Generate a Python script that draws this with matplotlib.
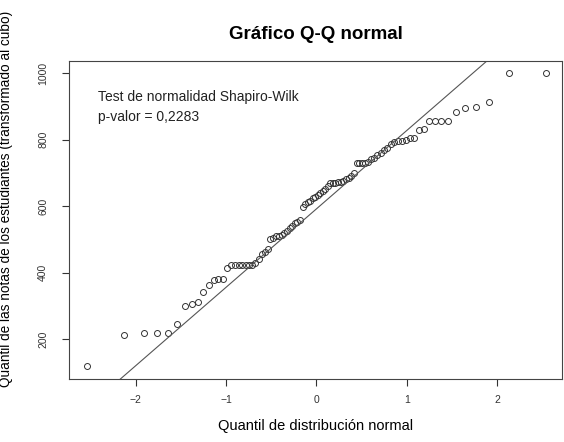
import matplotlib
matplotlib.use("Agg")
import matplotlib.pyplot as plt
import numpy as np
from statistics import NormalDist

# notas de los estudiantes (transformadas al cubo), ordenadas
notas = [119, 211, 217, 217, 217, 245, 299, 305, 311, 343,
         364, 377, 381, 380, 413, 422, 422, 422, 422, 422,
         422, 422, 430, 440, 455, 462, 470, 500, 505, 510,
         510, 512, 520, 525, 535, 540, 548, 552, 558, 598,
         605, 612, 615, 625, 628, 632, 638, 645, 650, 660,
         668, 670, 670, 672, 672, 675, 680, 685, 690, 700,
         728, 730, 730, 730, 732, 740, 745, 752, 760, 768,
         775, 785, 792, 795, 797, 799, 805, 805, 830, 832,
         857, 857, 857, 857, 884, 894, 899, 912, 1001, 1001]
p_valor = "0,2283"

y = np.sort(np.array(notas, dtype=float))
n = len(y)
# cuantiles teoricos como ppoints() de R
nd = NormalDist()
x = np.array([nd.inv_cdf((i - 0.5) / n) for i in range(1, n + 1)])

# recta qqline: pasa por el primer y tercer cuartil
y25, y75 = np.percentile(y, [25, 75])
x25, x75 = nd.inv_cdf(0.25), nd.inv_cdf(0.75)
pend = (y75 - y25) / (x75 - x25)
inter = y25 - pend * x25

plt.rcParams['font.family'] = ['Liberation Sans', 'DejaVu Sans']

fig = plt.figure(figsize=(5.64, 4.42), dpi=100)
ax = fig.add_axes([0.1223, 0.1425, 0.8742, 0.7195])

ax.plot(x, y, linestyle='none', marker='o', markersize=4.3, markerfacecolor='none',
        markeredgecolor='#333333', markeredgewidth=0.7)

ax.set_xlim(-2.74, 2.72)
ax.set_ylim(80, 1036)
xx = np.array([-3.0, 3.0])
ax.plot(xx, inter + pend * xx, color='#555555', linewidth=0.8)

ax.set_xticks([-2, -1, 0, 1, 2])
ax.set_yticks([200, 400, 600, 800, 1000])
ax.tick_params(axis='both', direction='out', length=5, width=0.8, labelsize=7.5,
               colors='#333333')
ax.tick_params(axis='x', pad=6.5)
ax.tick_params(axis='y', pad=10)
for lab in ax.get_yticklabels():
    lab.set_rotation(90)
    lab.set_va('center')
for s in ax.spines.values():
    s.set_linewidth(0.8)
    s.set_color('#444444')

ax.set_title('Gráfico Q-Q normal', fontsize=13.5, fontweight='bold', pad=16)
ax.set_xlabel('Quantil de distribución normal', fontsize=10.5, labelpad=10)
ax.set_ylabel('Quantil de las notas de los estudiantes (transformado al cubo)',
              fontsize=9.8)
ax.yaxis.set_label_coords(-0.114, 0.566)

ax.text(0.059, 0.887, 'Test de normalidad Shapiro-Wilk', transform=ax.transAxes,
        fontsize=10, va='center', ha='left', color='#222222')
ax.text(0.059, 0.824, 'p-valor = ' + p_valor, transform=ax.transAxes,
        fontsize=10, va='center', ha='left', color='#222222')

fig.savefig('out.png', dpi=100)
